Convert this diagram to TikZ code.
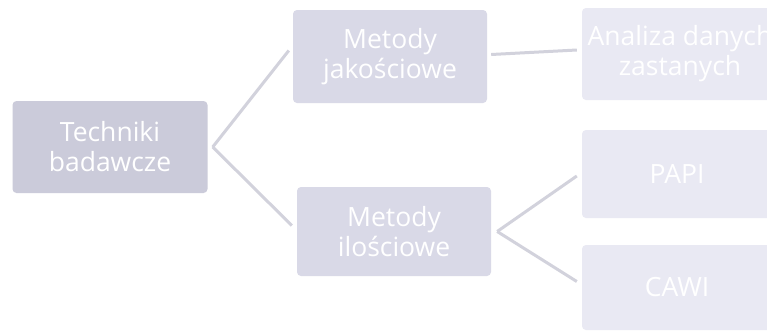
\documentclass[tikz,border=0pt]{standalone}
\usepackage{fontspec}
\setmainfont{Open Sans}
\begin{document}
\begin{tikzpicture}[x=1pt,y=-1pt,
  box/.style={rounded corners=4pt,inner sep=0pt,align=center,text=white,
     font=\fontsize{26.5}{30}\selectfont},
  lvla/.style={box,fill=lvlA},
  lvlb/.style={box,fill=lvlB},
  lvlc/.style={box,fill=lvlC},
  link/.style={draw=linkc,line width=3pt}]
\definecolor{lvlA}{HTML}{CBCBDA}
\definecolor{lvlB}{HTML}{D9D9E7}
\definecolor{lvlC}{HTML}{E9E9F3}
\definecolor{linkc}{HTML}{D2D2DC}
\useasboundingbox[fill=white] (0,0) rectangle (767,333);
\node[lvla,minimum width=195pt,minimum height=92pt] (tb) at (110,147) {Techniki\\badawcze};
\node[lvlb,minimum width=194pt,minimum height=93pt] (mj) at (390,56.5) {Metody\\jakościowe};
\node[lvlb,minimum width=194pt,minimum height=89pt] (mi) at (394,231.5) {Metody\\ilościowe};
\node[lvlc,minimum width=196pt,minimum height=92pt] (ad) at (680,54) {Analiza danych\\zastanych};
\node[lvlc,minimum width=190pt,minimum height=88pt] (pa) at (677,174) {PAPI};
\node[lvlc,minimum width=190pt,minimum height=85pt] (ca) at (677,287.5) {CAWI};
\coordinate (tbr) at ([xshift=5pt]tb.east);
\coordinate (mir) at ([xshift=6pt]mi.east);
\draw[link] (tbr) -- ([xshift=-4pt,yshift=6pt]mj.west);
\draw[link] (tbr) -- ([xshift=-5pt,yshift=6pt]mi.west);
\draw[link] ([xshift=4pt,yshift=2pt]mj.east) -- ([xshift=-5pt,yshift=4pt]ad.west);
\draw[link] (mir) -- ([xshift=-5pt,yshift=-2pt]pa.west);
\draw[link] (mir) -- ([xshift=-5pt,yshift=6pt]ca.west);
\end{tikzpicture}
\end{document}
